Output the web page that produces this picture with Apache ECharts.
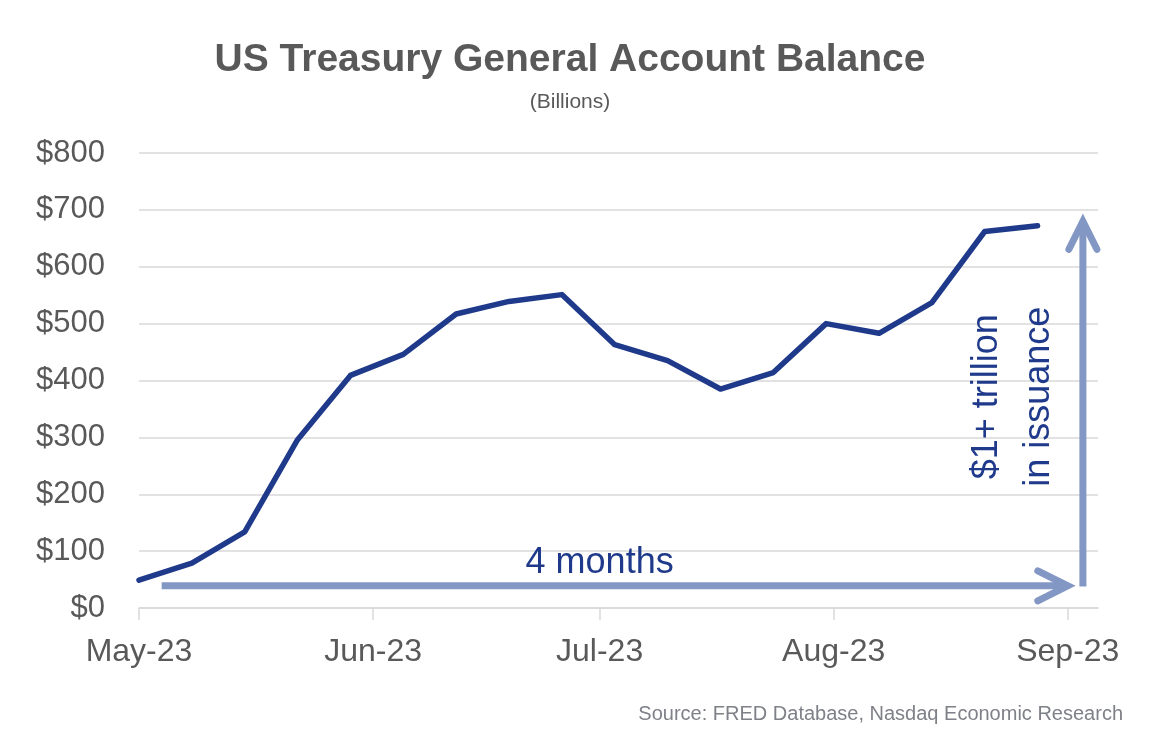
<!DOCTYPE html>
<html>
<head>
<meta charset="utf-8">
<script src="https://cdn.jsdelivr.net/npm/echarts@6/dist/echarts.min.js"></script>
<style>
  html, body { margin: 0; padding: 0; background: #ffffff; }
  #chart { width: 1174px; height: 752px; }
</style>
</head>
<body>
<div id="chart"></div>
<script>
// ---- Data ----
const weekDates = ['2023-05-01','2023-05-08','2023-05-15','2023-05-22','2023-05-29',
                   '2023-06-05','2023-06-12','2023-06-19','2023-06-26',
                   '2023-07-03','2023-07-10','2023-07-17','2023-07-24','2023-07-31',
                   '2023-08-07','2023-08-14','2023-08-21','2023-08-28'];
const tgaBalance = [49, 79, 134, 296, 409, 446, 517, 539, 551, 463, 435, 385, 414, 500, 483, 537, 662, 672];
const monthTicks = ['2023-05-01','2023-06-01','2023-07-01','2023-08-01','2023-09-01'];
const monthNames = ['Jan','Feb','Mar','Apr','May','Jun','Jul','Aug','Sep','Oct','Nov','Dec'];
const xRange = ['2023-05-01', '2023-09-05'];
const yTicks = { min: 0, max: 800, step: 100 };

// Annotation anchors (in data space)
const spanArrow = { start: '2023-05-04', end: '2023-09-01', level: 39, label: '4 months', labelAt: '2023-07-01' };
const riseArrow = { at: '2023-09-03', from: 38, to: 680, label: '$1+ trillion\nin issuance' };

const titleText = 'US Treasury General Account Balance';
const subtitleText = '(Billions)';
const sourceText = 'Source: FRED Database, Nasdaq Economic Research';

function ts(s) { const p = s.split('-').map(Number); return Date.UTC(p[0], p[1] - 1, p[2]); }

const lineData = weekDates.map((d, i) => [ts(d), tgaBalance[i]]);
const ARROW = '#8397c4';
const INK = '#1f3a8b';
const GRAY = '#595959';

const chart = echarts.init(document.getElementById('chart'), null, { renderer: 'canvas' });

const option = {
  animation: false,
  backgroundColor: '#ffffff',
  textStyle: { fontFamily: 'Liberation Sans, Arial, sans-serif' },
  grid: { left: 139, right: 76, top: 153, bottom: 144, containLabel: false },
  graphic: [
    { type: 'text', x: 570, y: 60, style: { text: titleText, font: 'bold 39px "Liberation Sans", Arial, sans-serif', fill: GRAY, textAlign: 'center', textVerticalAlign: 'middle' } },
    { type: 'text', x: 570, y: 102, style: { text: subtitleText, font: '21px "Liberation Sans", Arial, sans-serif', fill: GRAY, textAlign: 'center', textVerticalAlign: 'middle' } },
    { type: 'text', x: 1123, y: 714, style: { text: sourceText, font: '20px "Liberation Sans", Arial, sans-serif', fill: '#7f8189', textAlign: 'right', textVerticalAlign: 'middle' } }
  ],
  xAxis: {
    type: 'value',
    min: ts(xRange[0]),
    max: ts(xRange[1]),
    axisLine: { show: true, lineStyle: { color: '#d9d9d9', width: 1.5 } },
    axisTick: { show: true, length: 12, lineStyle: { color: '#d9d9d9', width: 1.5 }, customValues: monthTicks.map(ts) },
    axisLabel: {
      customValues: monthTicks.map(ts),
      color: GRAY, fontSize: 32, margin: 28,
      fontFamily: 'Liberation Sans, Arial, sans-serif',
      formatter: function (v) { const d = new Date(v); return monthNames[d.getUTCMonth()] + '-' + String(d.getUTCFullYear()).slice(2); }
    },
    splitLine: { show: false }
  },
  yAxis: {
    type: 'value',
    min: yTicks.min, max: yTicks.max, interval: yTicks.step,
    axisLine: { show: false },
    axisTick: { show: false },
    axisLabel: { color: GRAY, fontSize: 31, margin: 34, fontFamily: 'Liberation Sans, Arial, sans-serif', formatter: v => '$' + v },
    splitLine: { show: true, lineStyle: { color: '#d9d9d9', width: 1.5 } }
  },
  series: [
    {
      type: 'line',
      data: lineData,
      symbol: 'none',
      lineStyle: { color: INK, width: 5.5, join: 'round', cap: 'round' },
      z: 5
    },
    {
      type: 'custom',
      z: 4,
      silent: true,
      data: [[ts(spanArrow.start), spanArrow.level, ts(spanArrow.end), spanArrow.level]],
      encode: { x: [0, 2], y: [1, 3] },
      renderItem: function (params, api) {
        const a = api.coord([api.value(0), api.value(1)]);
        const b = api.coord([api.value(2), api.value(3)]);
        const t = api.coord([ts(spanArrow.labelAt), spanArrow.level]);
        const st = { stroke: ARROW, lineWidth: 7, lineCap: 'butt', lineJoin: 'miter' };
        return {
          type: 'group',
          children: [
            { type: 'line', shape: { x1: a[0], y1: a[1], x2: b[0] - 3, y2: b[1] }, style: st },
            { type: 'polyline', shape: { points: [[b[0] - 30, b[1] - 15], [b[0], b[1]], [b[0] - 30, b[1] + 15]] }, style: Object.assign({}, st, { lineCap: 'round', fill: null }) },
            { type: 'text', x: t[0], y: t[1] - 5, style: { text: spanArrow.label, font: '36px "Liberation Sans", Arial, sans-serif', fill: INK, textAlign: 'center', textVerticalAlign: 'bottom' } }
          ]
        };
      }
    },
    {
      type: 'custom',
      z: 4,
      silent: true,
      data: [[ts(riseArrow.at), riseArrow.from, ts(riseArrow.at), riseArrow.to]],
      encode: { x: [0, 2], y: [1, 3] },
      renderItem: function (params, api) {
        const a = api.coord([api.value(0), api.value(1)]);
        const b = api.coord([api.value(2), api.value(3)]);
        const st = { stroke: ARROW, lineWidth: 7, lineCap: 'butt', lineJoin: 'miter' };
        const midY = (a[1] + b[1]) / 2 - 7;
        return {
          type: 'group',
          children: [
            { type: 'line', shape: { x1: a[0], y1: a[1], x2: b[0], y2: b[1] + 3 }, style: st },
            { type: 'polyline', shape: { points: [[b[0] - 14, b[1] + 28], [b[0], b[1]], [b[0] + 14, b[1] + 28]] }, style: Object.assign({}, st, { lineCap: 'round', fill: null }) },
            { type: 'text', x: a[0] - 70, y: midY, rotation: Math.PI / 2, style: { text: riseArrow.label, font: '36px "Liberation Sans", Arial, sans-serif', lineHeight: 52, fill: INK, textAlign: 'center', textVerticalAlign: 'middle' } }
          ]
        };
      }
    }
  ]
};
chart.setOption(option);
</script>
</body>
</html>
